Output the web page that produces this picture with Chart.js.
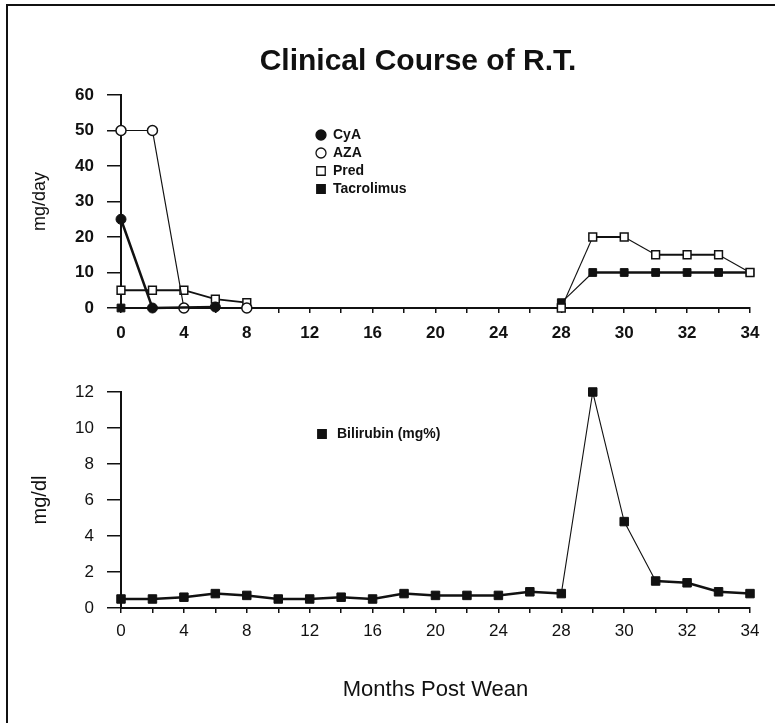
<!DOCTYPE html>
<html>
<head>
<meta charset="utf-8">
<script src="https://cdn.jsdelivr.net/npm/chart.js@4.4.1/dist/chart.umd.min.js"></script>
<style>
  html, body { margin: 0; padding: 0; background: #fff; }
  #page { position: relative; width: 775px; height: 723px; overflow: hidden; }
  #frame { position: absolute; left: 6px; top: 4px; width: 800px; height: 800px;
           border-left: 2px solid #111; border-top: 2px solid #111; }
  #top { position: absolute; left: 0; top: 0; }
  #bottom { position: absolute; left: 0; top: 360px; }
</style>
</head>
<body>
<div id="page">
  <div id="frame"></div>
  <canvas id="top" width="775" height="360"></canvas>
  <canvas id="bottom" width="775" height="363"></canvas>
</div>
<script>
// Data (months post wean; spacing changes after month 28)
const months = ['0','2','4','6','8','10','12','14','16','18','20','22','24','26','28','29','30','31','32','33','34'];
const shownTicks = ['0','4','8','12','16','20','24','28','30','32','34'];

const cya        = [25, 0, null, 0.3, null, null, null, null, null, null, null, null, null, null, null, null, null, null, null, null, null];
const aza        = [50, 50, 0, null, 0, null, null, null, null, null, null, null, null, null, null, null, null, null, null, null, null];
const pred       = [5, 5, 5, 2.5, 1.5, null, null, null, null, null, null, null, null, null, 0, 20, 20, 15, 15, 15, 10];
const tacrolimus = [0, null, null, null, null, null, null, null, null, null, null, null, null, null, 1.5, 10, 10, 10, 10, 10, 10];
const bilirubin  = [0.5, 0.5, 0.6, 0.8, 0.7, 0.5, 0.5, 0.6, 0.5, 0.8, 0.7, 0.7, 0.7, 0.9, 0.8, 12, 4.8, 1.5, 1.4, 0.9, 0.8];

const FONT = "'Liberation Sans', Arial, Helvetica, sans-serif";
const INK = '#111';

// thin line on steep jumps, like the original plot
function thinSteep(w, limit) {
    return { borderWidth: c => Math.abs(c.p1.parsed.y - c.p0.parsed.y) > limit ? 1.1 : w };
}

// page title drawn on the top canvas
const pageTitle = {
    id: 'pageTitle',
    afterDraw(chart, args, opts) {
        if (!opts.text) return;
        const ctx = chart.ctx;
        ctx.save();
        ctx.font = opts.font;
        ctx.fillStyle = INK;
        ctx.textAlign = 'center';
        ctx.textBaseline = 'middle';
        ctx.fillText(opts.text, opts.x, opts.y);
        ctx.restore();
    }
};

// small legend placed inside the plot
function drawMarker(ctx, style, x, y, r, fill, lw) {
    ctx.beginPath();
    if (style === 'circle') {
        ctx.arc(x, y, r, 0, Math.PI * 2);
    } else {
        const s = r * Math.SQRT1_2;
        ctx.rect(x - s, y - s, 2 * s, 2 * s);
    }
    ctx.fillStyle = fill;
    ctx.fill();
    ctx.lineWidth = lw;
    ctx.strokeStyle = INK;
    ctx.stroke();
}

const inlineLegend = {
    id: 'inlineLegend',
    afterDraw(chart, args, opts) {
        const ctx = chart.ctx;
        ctx.save();
        ctx.font = opts.font;
        ctx.textBaseline = 'middle';
        ctx.textAlign = 'left';
        chart.data.datasets.forEach((ds, i) => {
            const y = opts.y + i * opts.step;
            const r = ds.pointStyle === 'circle' ? 5 : 6;
            drawMarker(ctx, ds.pointStyle, opts.x, y, r, ds.pointBackgroundColor, 1.3);
            ctx.fillStyle = INK;
            ctx.fillText(ds.label, opts.textX, y);
        });
        ctx.restore();
    }
};

function xAxis(bold, pad, height, title) {
    return {
        type: 'category',
        offset: false,
        grid: { display: true, drawOnChartArea: false, drawTicks: true, tickLength: 5, color: INK, lineWidth: 1.5 },
        border: { display: true, color: INK, width: 2 },
        ticks: {
            autoSkip: false, maxRotation: 0, minRotation: 0, padding: pad, color: INK,
            font: { family: FONT, size: 17, weight: bold ? 'bold' : 'normal' },
            callback: function (v) {
                const l = this.getLabelForValue(v);
                return shownTicks.includes(l) ? l : '';
            }
        },
        title: title,
        afterFit: s => { s.height = height; }
    };
}

function yAxis(max, step, bold, title) {
    return {
        min: 0, max: max,
        grid: { display: true, drawOnChartArea: false, drawTicks: true, tickLength: 14, color: INK, lineWidth: 1.5 },
        border: { display: true, color: INK, width: 2 },
        ticks: {
            stepSize: step, padding: 13, color: INK,
            font: { family: FONT, size: 17, weight: bold ? 'bold' : 'normal' }
        },
        title: title,
        afterFit: s => { s.width = 121; }
    };
}

const common = {
    responsive: false,
    animation: false,
    events: [],
    plugins: { legend: { display: false }, tooltip: { enabled: false } }
};

// Top chart: drug doses
new Chart(document.getElementById('top'), {
    type: 'line',
    data: {
        labels: months,
        datasets: [
            { label: 'CyA', data: cya, borderColor: INK, borderWidth: 2.5, spanGaps: true, clip: false,
              pointStyle: 'circle', pointRadius: 5, pointBackgroundColor: INK, pointBorderColor: INK, pointBorderWidth: 1 },
            { label: 'AZA', data: aza, borderColor: INK, borderWidth: 1.2, spanGaps: true, clip: false,
              pointStyle: 'circle', pointRadius: 5, pointBackgroundColor: '#fff', pointBorderColor: INK, pointBorderWidth: 1.5 },
            { label: 'Pred', data: pred, borderColor: INK, borderWidth: 1.8, segment: thinSteep(1.8, 4), clip: false,
              pointStyle: 'rect', pointRadius: 5.5, pointBackgroundColor: '#fff', pointBorderColor: INK, pointBorderWidth: 1.5 },
            { label: 'Tacrolimus', data: tacrolimus, borderColor: INK, borderWidth: 2.6, segment: thinSteep(2.6, 4), clip: false,
              pointStyle: 'rect', pointRadius: 5.5, pointBackgroundColor: INK, pointBorderColor: INK, pointBorderWidth: 1 }
        ]
    },
    options: {
        ...common,
        layout: { padding: { top: 95, right: 25, left: 0, bottom: 0 } },
        scales: {
            x: xAxis(true, 10, 52, { display: false }),
            y: yAxis(60, 10, true, { display: true, text: 'mg/day', color: INK,
                 font: { family: FONT, size: 18 }, padding: { top: 29, bottom: 0 } })
        },
        plugins: {
            ...common.plugins,
            pageTitle: { text: 'Clinical Course of R.T.', x: 418, y: 62, font: 'bold 30px ' + FONT },
            inlineLegend: { x: 321, textX: 333, y: 135, step: 18, font: 'bold 14px ' + FONT }
        }
    },
    plugins: [pageTitle, inlineLegend]
});

// Bottom chart: bilirubin
new Chart(document.getElementById('bottom'), {
    type: 'line',
    data: {
        labels: months,
        datasets: [
            { label: 'Bilirubin (mg%)', data: bilirubin, borderColor: INK, borderWidth: 2.5, segment: thinSteep(2.5, 3), clip: false,
              pointStyle: 'rect', pointRadius: 6, pointBackgroundColor: INK, pointBorderColor: INK, pointBorderWidth: 1 }
        ]
    },
    options: {
        ...common,
        layout: { padding: { top: 32, right: 25, left: 0, bottom: 0 } },
        scales: {
            x: xAxis(false, 8, 115, { display: true, text: 'Months Post Wean', color: INK,
                 font: { family: FONT, size: 22 }, padding: { top: 0, bottom: 20 } }),
            y: yAxis(12, 2, false, { display: true, text: 'mg/dl', color: INK,
                 font: { family: FONT, size: 20 }, padding: { top: 28, bottom: 0 } })
        },
        plugins: {
            ...common.plugins,
            inlineLegend: { x: 322, textX: 337, y: 74, step: 18, font: 'bold 14px ' + FONT }
        }
    },
    plugins: [inlineLegend]
});
</script>
</body>
</html>
